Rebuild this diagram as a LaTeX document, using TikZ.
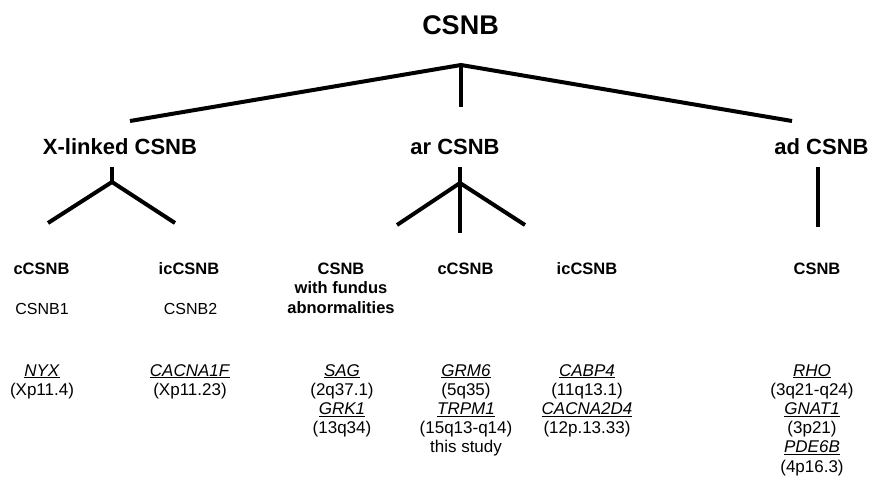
\documentclass[tikz,border=0pt]{standalone}
\usepackage{fontspec}
\setmainfont{Liberation Sans}
\begin{document}
\begin{tikzpicture}[x=1pt,y=-1pt,
  ln/.style={line width=4pt,line join=miter},
  top/.style={font=\bfseries\fontsize{27}{30}\selectfont,anchor=base,inner sep=0pt},
  mid/.style={font=\bfseries\fontsize{22}{26}\selectfont,anchor=base,inner sep=0pt},
  sub/.style={font=\bfseries\fontsize{16.5}{19.5}\selectfont,anchor=base,inner sep=0pt,align=center},
  nm/.style={font=\fontsize{16}{19}\selectfont,anchor=base,inner sep=0pt},
  gene/.style={font=\fontsize{17}{19.2}\selectfont,anchor=base,inner sep=0pt,align=center}]
\useasboundingbox (0,0) rectangle (870,481);
\newcommand{\gn}[1]{\underline{\textit{#1}}}
% level 1 and 2
\node[top] (root) at (460.5,35) {CSNB};
\node[mid] (xl) at (120,155) {X-linked CSNB};
\node[mid] (ar) at (455,155) {ar CSNB};
\node[mid] (ad) at (821.5,155) {ad CSNB};
% level 3 (anchor base = baseline of last line)
\node[sub] (xlc) at (41.5,274) {cCSNB};
\node[sub] (xlic) at (189,274) {icCSNB};
\node[sub] (arf) at (341,313) {CSNB\\with fundus\\abnormalities};
\node[sub] (arc) at (465.5,274) {cCSNB};
\node[sub] (aric) at (587,274) {icCSNB};
\node[sub] (adc) at (817,274) {CSNB};
\node[nm] (xlcn) at (42,314) {CSNB1};
\node[nm] (xlicn) at (190.5,314) {CSNB2};
% genes
\node[gene] (g1) at (42,395.2) {\gn{NYX}\\(Xp11.4)};
\node[gene] (g2) at (190,395.2) {\gn{CACNA1F}\\(Xp11.23)};
\node[gene] (g3) at (342,433.6) {\gn{SAG}\\(2q37.1)\\\gn{GRK1}\\(13q34)};
\node[gene] (g4) at (466,452.8) {\gn{GRM6}\\(5q35)\\\gn{TRPM1}\\(15q13-q14)\\this study};
\node[gene] (g5) at (587,433.6) {\gn{CABP4}\\(11q13.1)\\\gn{CACNA2D4}\\(12p.13.33)};
\node[gene] (g6) at (812,472) {\gn{RHO}\\(3q21-q24)\\\gn{GNAT1}\\(3p21)\\\gn{PDE6B}\\(4p16.3)};
% connector points
\coordinate (rj) at (461,65);
\coordinate (rl) at (130,121);
\coordinate (rr) at (792,121);
\coordinate (rm) at (461,107);
\coordinate (xt) at (112,167);
\coordinate (xj) at (112,182);
\coordinate (xa) at (48,223);
\coordinate (xb) at (175,223);
\coordinate (at) at (460,167);
\coordinate (aj) at (460,183);
\coordinate (aa) at (397,225);
\coordinate (ab) at (525,225);
\coordinate (am) at (460,233);
\coordinate (dt) at (818,167);
\coordinate (db) at (818,227);
% connectors
\draw[ln] (rl) -- (rj) -- (rr);
\draw[ln] (rj) -- (rm);
\draw[ln] (xt) -- (xj);
\draw[ln] (xa) -- (xj) -- (xb);
\draw[ln] (at) -- (am);
\draw[ln] (aa) -- (aj) -- (ab);
\draw[ln] (dt) -- (db);
\end{tikzpicture}
\end{document}
